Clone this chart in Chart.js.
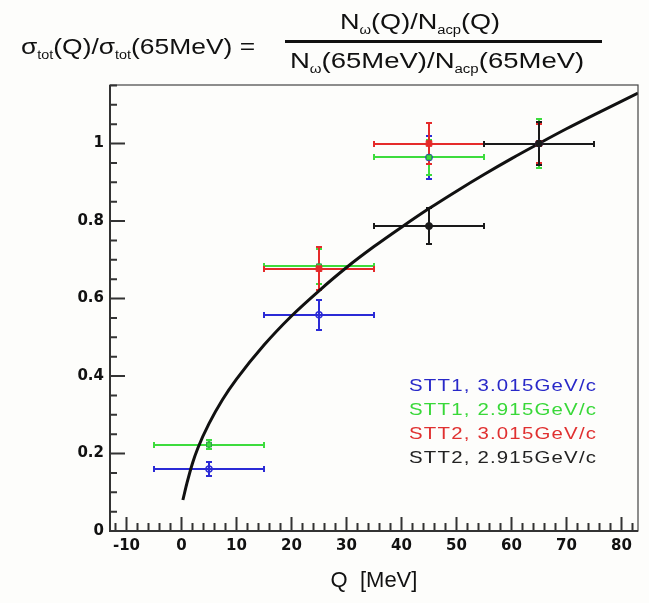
<!DOCTYPE html>
<html>
<head>
<meta charset="utf-8">
<script src="https://cdn.jsdelivr.net/npm/chart.js@4.4.0/dist/chart.umd.min.js"></script>
<style>
  body { margin: 0; background: #fdfdfb; font-family: "Liberation Sans", Arial, sans-serif; }
  #wrap { position: relative; width: 649px; height: 603px; }
  canvas { position: absolute; left: 0; top: 0; }
  .t { position: absolute; color: #111; font-size: 22px; line-height: 25px; white-space: nowrap;
       transform: scaleX(1.23); transform-origin: 0 0; }
  .t sub { font-size: 12px; vertical-align: baseline; position: relative; top: 5px; }
  #lhs { left: 21px; top: 34px; transform: scaleX(1.2); }
  #num { left: 340px; top: 9px; }
  #den { left: 290px; top: 48px; transform: scaleX(1.25); }
  #bar { position: absolute; left: 285px; top: 40px; width: 317px; height: 3px; background: #111; }
  #legend { position: absolute; left: 409px; top: 374px; font-size: 17px; line-height: 24px; letter-spacing: 1px;
            transform: scaleX(1.2); transform-origin: 0 0; }
</style>
</head>
<body>
<div id="wrap">
  <canvas id="c" width="649" height="603"></canvas>
  <div class="t" id="lhs">σ<sub>tot</sub>(Q)/σ<sub>tot</sub>(65MeV) =</div>
  <div class="t" id="num">N<sub>ω</sub>(Q)/N<sub>acp</sub>(Q)</div>
  <div id="bar"></div>
  <div class="t" id="den">N<sub>ω</sub>(65MeV)/N<sub>acp</sub>(65MeV)</div>
  <div id="legend">
    <div style="color:#2828c8">STT1, 3.015GeV/c</div>
    <div style="color:#38d838">STT1, 2.915GeV/c</div>
    <div style="color:#e03030">STT2, 3.015GeV/c</div>
    <div style="color:#222">STT2, 2.915GeV/c</div>
  </div>
</div>
<script>
// axis ticks
const X_TICKS = [-10, 0, 10, 20, 30, 40, 50, 60, 70, 80];
const Y_TICKS = [0, 0.2, 0.4, 0.6, 0.8, 1];

// STT1, 3.015 GeV/c
const BLUE_Q  = [5, 25, 45, 65];
const BLUE_R  = [0.160, 0.558, 0.964, 1.0];
const BLUE_DQ = [10, 10, 10, 10];
const BLUE_DR = [0.018, 0.038, 0.055, 0.05];

// STT1, 2.915 GeV/c
const GREEN_Q  = [5, 25, 45, 65];
const GREEN_R  = [0.223, 0.683, 0.964, 1.0];
const GREEN_DQ = [10, 10, 10, 10];
const GREEN_DR = [0.012, 0.045, 0.045, 0.062];

// STT2, 3.015 GeV/c
const RED_Q  = [25, 45, 65];
const RED_R  = [0.677, 1.0, 1.0];
const RED_DQ = [10, 10, 10];
const RED_DR = [0.055, 0.054, 0.05];

// STT2, 2.915 GeV/c
const BLACK_Q  = [45, 65];
const BLACK_R  = [0.787, 1.0];
const BLACK_DQ = [10, 10];
const BLACK_DR = [0.047, 0.055];

// fitted curve
const FIT_Q = [0.25, 1, 2, 3, 5, 7.5, 10, 15, 20, 25, 30, 35, 40, 45, 50, 55, 60, 65, 70, 75, 83];
const FIT_R = [0.080, 0.124, 0.175, 0.215, 0.277, 0.34, 0.392, 0.48, 0.555, 0.62, 0.68, 0.734, 0.784, 0.832, 0.877, 0.92, 0.961, 1.0, 1.038, 1.074, 1.13];

const series = [
  { q: BLUE_Q,  r: BLUE_R,  dq: BLUE_DQ,  dr: BLUE_DR,  color: '#2b2bd6' },
  { q: GREEN_Q, r: GREEN_R, dq: GREEN_DQ, dr: GREEN_DR, color: '#3ddc3d' },
  { q: RED_Q,   r: RED_R,   dq: RED_DQ,   dr: RED_DR,   color: '#e52a2a' },
  { q: BLACK_Q, r: BLACK_R, dq: BLACK_DQ, dr: BLACK_DR, color: '#1a1a1a' },
];

const pts = (q, r) => q.map((v, i) => ({ x: v, y: r[i] }));

// error bars with small end caps, under the markers
// (snapped to whole pixels so that overlapping bars cover each other cleanly)
const errorBars = {
  id: 'errorBars',
  beforeDatasetsDraw(chart) {
    const { ctx, scales: { x, y } } = chart;
    const px2 = v => Math.round(v);
    ctx.save();
    ctx.lineWidth = 2;
    series.forEach(s => {
      ctx.strokeStyle = s.color;
      s.q.forEach((q, i) => {
        const px = px2(x.getPixelForValue(q)), py = px2(y.getPixelForValue(s.r[i]));
        const x0 = px2(x.getPixelForValue(q - s.dq[i])), x1 = px2(x.getPixelForValue(q + s.dq[i]));
        const y0 = px2(y.getPixelForValue(s.r[i] - s.dr[i])), y1 = px2(y.getPixelForValue(s.r[i] + s.dr[i]));
        ctx.beginPath();
        ctx.moveTo(x0, py); ctx.lineTo(x1, py);
        ctx.moveTo(x0, py - 3); ctx.lineTo(x0, py + 3);
        ctx.moveTo(x1, py - 3); ctx.lineTo(x1, py + 3);
        ctx.moveTo(px, y0); ctx.lineTo(px, y1);
        ctx.moveTo(px - 3, y0); ctx.lineTo(px + 3, y0);
        ctx.moveTo(px - 3, y1); ctx.lineTo(px + 3, y1);
        ctx.stroke();
      });
    });
    ctx.restore();
  }
};

// ROOT-style frame with ticks pointing inwards
const frameTicks = {
  id: 'frameTicks',
  afterDraw(chart) {
    const { ctx, chartArea: a, scales: { x, y } } = chart;
    ctx.save();
    ctx.strokeStyle = '#444';
    ctx.lineWidth = 1.2;
    ctx.strokeRect(a.left, a.top, a.right - a.left, a.bottom - a.top);
    ctx.strokeStyle = '#333';
    ctx.lineWidth = 2;
    ctx.beginPath();
    ctx.moveTo(a.left, a.top); ctx.lineTo(a.left, a.bottom); ctx.lineTo(a.right, a.bottom);
    for (let v = -12; v <= 82; v += 2) {
      const px = x.getPixelForValue(v);
      const len = v % 10 === 0 ? 14 : 8;
      ctx.moveTo(px, a.bottom); ctx.lineTo(px, a.bottom - len);
    }
    for (let k = 0; k <= 23; k++) {
      const py = y.getPixelForValue(k * 0.05);
      const len = k % 4 === 0 ? 15 : 7;
      ctx.moveTo(a.left, py); ctx.lineTo(a.left + len, py);
    }
    ctx.stroke();
    ctx.restore();
  }
};

const tickFont = { family: '"DejaVu Sans", sans-serif', size: 15, weight: 'bold' };

new Chart(document.getElementById('c'), {
  type: 'scatter',
  data: { datasets: [
    { data: pts(BLACK_Q, BLACK_R), pointStyle: 'circle', pointRadius: 3.5, backgroundColor: '#1a1a1a', borderColor: '#1a1a1a' },
    { data: pts(RED_Q, RED_R), pointStyle: 'rect', pointRadius: 4, backgroundColor: '#e52a2a', borderColor: '#e52a2a' },
    { data: pts(GREEN_Q, GREEN_R), pointStyle: 'rect', pointRadius: 3.5, backgroundColor: '#3ddc3d', borderColor: '#2e9c4e' },
    { data: pts(BLUE_Q, BLUE_R), pointStyle: 'circle', pointRadius: 3, backgroundColor: 'rgba(0,0,0,0)', borderColor: '#2b2bd6', borderWidth: 1.5 },
    { data: pts(FIT_Q, FIT_R), showLine: true, pointRadius: 0, borderColor: '#111', borderWidth: 3, cubicInterpolationMode: 'monotone' },
  ]},
  options: {
    responsive: false, animation: false,
    layout: { padding: { left: 0, top: 85, right: 11, bottom: 0 } },
    plugins: { legend: { display: false }, tooltip: { enabled: false } },
    scales: {
      x: {
        type: 'linear', min: -13, max: 83,
        afterBuildTicks: s => { s.ticks = X_TICKS.map(v => ({ value: v })); },
        afterFit: s => { s.height = 72; },
        grid: { display: false, drawTicks: false }, border: { display: false },
        ticks: { color: '#111', font: tickFont, padding: 6, maxRotation: 0, autoSkip: false },
        title: { display: true, text: 'Q  [MeV]', color: '#111',
          font: { family: '"Liberation Sans", Arial, sans-serif', size: 22 }, padding: { top: 0, bottom: 9 } }
      },
      y: {
        type: 'linear', min: 0, max: 1.151,
        afterBuildTicks: s => { s.ticks = Y_TICKS.map(v => ({ value: v })); },
        afterFit: s => { s.width = 110; },
        grid: { display: false, drawTicks: false }, border: { display: false },
        ticks: { color: '#111', font: tickFont, padding: 6, callback: v => String(v) }
      }
    }
  },
  plugins: [errorBars, frameTicks]
});
</script>
</body>
</html>
